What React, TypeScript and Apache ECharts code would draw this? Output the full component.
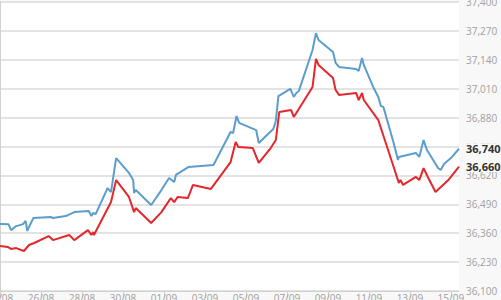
import React, { useEffect, useRef } from 'react';
import * as echarts from 'echarts';

const startTime = '2023-08-24 00:00';
const yMin = 36100;
const yMax = 37400;
const yStep = 130;
const xStepDays = 2;

const blueTimes = [
  '2023-08-24 00:00', '2023-08-24 10:00', '2023-08-24 13:00', '2023-08-24 19:00', '2023-08-25 03:00',
  '2023-08-25 06:00', '2023-08-25 08:00', '2023-08-25 10:00', '2023-08-25 15:00', '2023-08-26 12:00',
  '2023-08-26 14:00', '2023-08-27 05:00', '2023-08-27 15:00', '2023-08-28 08:00', '2023-08-28 11:00',
  '2023-08-28 13:00', '2023-08-28 16:00', '2023-08-29 06:00', '2023-08-29 10:00', '2023-08-29 16:00',
  '2023-08-30 07:00', '2023-08-30 12:00', '2023-08-30 13:00', '2023-08-30 15:00', '2023-08-31 09:00',
  '2023-08-31 21:00', '2023-09-01 06:00', '2023-09-01 12:00', '2023-09-01 14:00', '2023-09-02 05:00',
  '2023-09-03 10:00', '2023-09-04 06:00', '2023-09-04 09:00', '2023-09-04 13:00', '2023-09-04 16:00',
  '2023-09-05 12:00', '2023-09-05 15:00', '2023-09-06 08:00', '2023-09-06 11:00', '2023-09-06 14:00',
  '2023-09-07 04:00', '2023-09-07 08:00', '2023-09-07 11:00', '2023-09-07 14:00', '2023-09-08 06:00',
  '2023-09-08 10:00', '2023-09-08 13:00', '2023-09-09 06:00', '2023-09-09 09:00', '2023-09-09 13:00',
  '2023-09-10 09:00', '2023-09-10 12:00', '2023-09-10 16:00', '2023-09-10 18:00', '2023-09-11 05:00',
  '2023-09-11 11:00', '2023-09-11 14:00', '2023-09-11 17:00', '2023-09-12 05:00', '2023-09-12 10:00',
  '2023-09-12 11:00', '2023-09-13 07:00', '2023-09-13 11:00', '2023-09-13 16:00', '2023-09-13 20:00',
  '2023-09-14 09:00', '2023-09-14 12:00', '2023-09-14 16:00', '2023-09-15 00:00', '2023-09-15 09:30',
];
const blueValues = [
  36401, 36400, 36374, 36392, 36401,
  36415, 36370, 36388, 36428, 36433,
  36428, 36437, 36455, 36460, 36437,
  36451, 36446, 36563, 36545, 36698,
  36631, 36599, 36541, 36554, 36487,
  36554, 36608, 36590, 36622, 36658,
  36667, 36815, 36811, 36887, 36856,
  36824, 36766, 36829, 36865, 36977,
  37009, 36973, 36991, 37000, 37184,
  37260, 37229, 37175, 37126, 37108,
  37099, 37090, 37148, 37117, 37018,
  36973, 36932, 36928, 36766, 36689,
  36703, 36721, 36703, 36779, 36734,
  36653, 36644, 36671, 36698, 36740,
];

const redTimes = [
  '2023-08-24 00:00', '2023-08-24 09:00', '2023-08-24 13:00', '2023-08-24 19:00', '2023-08-25 04:00',
  '2023-08-25 10:00', '2023-08-25 16:00', '2023-08-26 09:00', '2023-08-26 14:00', '2023-08-27 09:00',
  '2023-08-27 15:00', '2023-08-28 07:00', '2023-08-28 11:00', '2023-08-28 13:00', '2023-08-28 14:00',
  '2023-08-29 10:00', '2023-08-29 16:00', '2023-08-30 07:00', '2023-08-30 13:00', '2023-08-30 15:00',
  '2023-08-31 09:00', '2023-08-31 21:00', '2023-09-01 08:00', '2023-09-01 12:00', '2023-09-01 16:00',
  '2023-09-02 04:00', '2023-09-02 10:00', '2023-09-03 07:00', '2023-09-04 06:00', '2023-09-04 12:00',
  '2023-09-04 15:00', '2023-09-05 08:00', '2023-09-05 09:00', '2023-09-05 15:00', '2023-09-06 05:00',
  '2023-09-06 11:00', '2023-09-06 15:00', '2023-09-07 05:00', '2023-09-07 08:00', '2023-09-07 11:00',
  '2023-09-08 06:00', '2023-09-08 10:00', '2023-09-08 13:00', '2023-09-09 06:00', '2023-09-09 09:00',
  '2023-09-09 13:00', '2023-09-10 09:00', '2023-09-10 12:00', '2023-09-10 16:00', '2023-09-10 18:00',
  '2023-09-11 11:00', '2023-09-11 14:00', '2023-09-12 05:00', '2023-09-12 10:00', '2023-09-12 11:00',
  '2023-09-12 13:00', '2023-09-12 16:00', '2023-09-13 07:00', '2023-09-13 11:00', '2023-09-13 16:00',
  '2023-09-13 21:00', '2023-09-14 06:00', '2023-09-14 21:00', '2023-09-15 09:30',
];
const redValues = [
  36302, 36298, 36289, 36293, 36280,
  36307, 36316, 36347, 36329, 36352,
  36329, 36374, 36352, 36365, 36352,
  36500, 36599, 36523, 36455, 36473,
  36406, 36455, 36518, 36500, 36523,
  36518, 36577, 36559, 36680, 36770,
  36748, 36743, 36734, 36676, 36743,
  36779, 36905, 36914, 36883, 36901,
  37018, 37144, 37117, 37058, 37004,
  36982, 36991, 36959, 36991, 36959,
  36869, 36833, 36658, 36599, 36586,
  36599, 36577, 36613, 36599, 36653,
  36613, 36545, 36599, 36660,
];

const blueColor = '#5b9dcb';
const redColor = '#e5262b';

function toUTC(s: string): number {
  const m = s.match(/(\d+)-(\d+)-(\d+) (\d+):(\d+)/)!;
  return Date.UTC(+m[1], +m[2] - 1, +m[3], +m[4], +m[5]);
}
const base = toUTC(startTime);
const toDays = (s: string) => (toUTC(s) - base) / 86400000;
const fmtNum = (v: number) => Math.round(v).toLocaleString('en-US');
const fmtDay = (d: number) => {
  const dt = new Date(base + d * 86400000);
  const dd = String(dt.getUTCDate()).padStart(2, '0');
  const mm = String(dt.getUTCMonth() + 1).padStart(2, '0');
  return dd + '/' + mm;
};

export default function App() {
  const ref = useRef<HTMLDivElement>(null);
  useEffect(() => {
    if (!ref.current) return;
    const chart = echarts.init(ref.current, undefined, { renderer: 'svg' });
    const mk = (times: string[], values: number[]) =>
      times.map((t, i) => [toDays(t), values[i] - yMin]);
    const endLabel = {
      show: true,
      formatter: (p: any) => fmtNum(p.value[1] + yMin),
      color: '#333',
      fontSize: 11,
      fontWeight: 'bold' as const,
      fontFamily: 'Open Sans',
      distance: 6,
      backgroundColor: '#f8f8f8',
      padding: [0, 2, 0, 1],
    };
    chart.setOption({
      animation: false,
      backgroundColor: '#f8f8f8',
      grid: {
        left: 0,
        right: 42,
        top: 2,
        bottom: 9,
        show: true,
        backgroundColor: '#ffffff',
        borderWidth: 0,
        containLabel: false,
        outerBoundsMode: 'none',
      },
      xAxis: {
        type: 'value',
        min: 0,
        max: 'dataMax',
        interval: xStepDays,
        axisLine: { show: true, lineStyle: { color: '#d0d0d0', width: 1 } },
        axisTick: { show: true, length: 7, lineStyle: { color: '#d0d0d0' } },
        splitLine: { show: false },
        axisLabel: {
          show: true,
          color: '#a0a0a0',
          fontSize: 10,
          fontFamily: 'Open Sans',
          margin: 2,
          showMaxLabel: false,
          formatter: (v: number) => fmtDay(v),
        },
      },
      yAxis: {
        type: 'value',
        position: 'right',
        min: 0,
        max: yMax - yMin,
        interval: yStep,
        axisLine: { show: true, lineStyle: { color: '#d0d0d0', width: 1 } },
        axisTick: { show: false },
        splitLine: { show: true, lineStyle: { color: '#dadada', width: 1.5 } },
        axisLabel: {
          color: '#a0a0a0',
          fontSize: 10,
          fontFamily: 'Open Sans',
          margin: 7,
          formatter: (v: number) => fmtNum(v + yMin),
        },
      },
      series: [
        {
          type: 'line',
          data: mk(blueTimes, blueValues),
          showSymbol: false,
          lineStyle: { color: blueColor, width: 2 },
          itemStyle: { color: blueColor },
          endLabel,
          z: 3,
        },
        {
          type: 'line',
          data: mk(redTimes, redValues),
          showSymbol: false,
          lineStyle: { color: redColor, width: 2 },
          itemStyle: { color: redColor },
          endLabel,
          z: 4,
        },
      ],
    });
    return () => chart.dispose();
  }, []);
  return (
    <div
      ref={ref}
      style={{ position: 'fixed', left: 0, top: 0, width: 501, height: 300 }}
    />
  );
}
